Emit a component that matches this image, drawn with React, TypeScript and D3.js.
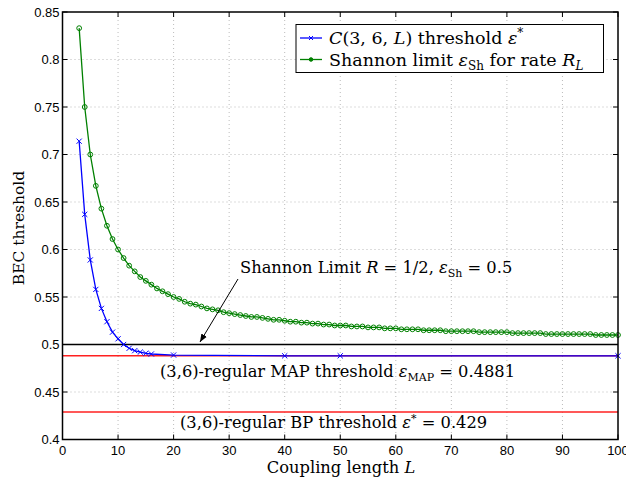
import * as d3 from "d3";

// blue: C(3,6,L) BP threshold
const coupledL = [3, 4, 5, 6, 7, 8, 9, 10, 11, 12, 13, 14, 15, 16, 20, 40, 50, 100];
const coupledEps = [
  0.714, 0.637, 0.589, 0.558, 0.538, 0.524, 0.513, 0.506, 0.5, 0.496, 0.4935, 0.492, 0.4907,
  0.49, 0.4889, 0.4881, 0.4881, 0.4881,
];

// green: Shannon limit for rate R_L
const shannonL = [
  3, 4, 5, 6, 7, 8, 9, 10, 11, 12, 13, 14, 15, 16, 17, 18, 19, 20, 21, 22, 23, 24, 25, 26, 27,
  28, 29, 30, 31, 32, 33, 34, 35, 36, 37, 38, 39, 40, 41, 42, 43, 44, 45, 46, 47, 48, 49, 50, 51,
  52, 53, 54, 55, 56, 57, 58, 59, 60, 61, 62, 63, 64, 65, 66, 67, 68, 69, 70, 71, 72, 73, 74, 75,
  76, 77, 78, 79, 80, 81, 82, 83, 84, 85, 86, 87, 88, 89, 90, 91, 92, 93, 94, 95, 96, 97, 98, 99,
  100,
];
const shannonEps = [
  0.833, 0.75, 0.7, 0.667, 0.643, 0.625, 0.611, 0.6, 0.591, 0.583, 0.577, 0.571, 0.567, 0.563,
  0.559, 0.556, 0.553, 0.55, 0.548, 0.545, 0.543, 0.542, 0.54, 0.538, 0.537, 0.536, 0.534, 0.533,
  0.532, 0.531, 0.53, 0.529, 0.529, 0.528, 0.527, 0.526, 0.526, 0.525, 0.524, 0.524, 0.523, 0.523,
  0.522, 0.522, 0.521, 0.521, 0.52, 0.52, 0.52, 0.519, 0.519, 0.519, 0.518, 0.518, 0.518, 0.517,
  0.517, 0.517, 0.516, 0.516, 0.516, 0.516, 0.515, 0.515, 0.515, 0.515, 0.514, 0.514, 0.514,
  0.514, 0.514, 0.514, 0.513, 0.513, 0.513, 0.513, 0.513, 0.513, 0.512, 0.512, 0.512, 0.512,
  0.512, 0.512, 0.511, 0.511, 0.511, 0.511, 0.511, 0.511, 0.511, 0.511, 0.511, 0.51, 0.51, 0.51,
  0.51, 0.51,
];

const xTicks = [0, 10, 20, 30, 40, 50, 60, 70, 80, 90, 100];
const yTicks = [0.4, 0.45, 0.5, 0.55, 0.6, 0.65, 0.7, 0.75, 0.8, 0.85];

const shannonLimit = 0.5;
const mapThreshold = 0.4881;
const bpThreshold = 0.429;

const W = 626;
const H = 480;
const left = 62.5;
const right = 618;
const top = 12;
const bottom = 439.5;

const serif = "'DejaVu Serif', 'Liberation Serif', serif";
const sans = "'Liberation Sans', Arial, sans-serif";
const blue = "#0000ff";
const green = "#008000";
const red = "#ff2020";
const fs = 16.3;
const sub = 11;
const legFs = 17.5;
const legSub = 12;

function XMark({ x, y, s = 2.6 }: { x: number; y: number; s?: number }) {
  return (
    <path
      d={`M${x - s},${y - s}L${x + s},${y + s}M${x - s},${y + s}L${x + s},${y - s}`}
      stroke={blue}
      strokeWidth={1}
      fill="none"
    />
  );
}

export default function App() {
  const x = d3.scaleLinear().domain([0, 100]).range([left, right]);
  const y = d3.scaleLinear().domain([0.4, 0.85]).range([bottom, top]);

  const coupledLine = d3
    .line<number>()
    .x((_, i) => x(coupledL[i]))
    .y((d) => y(d))(coupledEps) as string;
  const shannonLine = d3
    .line<number>()
    .x((_, i) => x(shannonL[i]))
    .y((d) => y(d))(shannonEps) as string;

  const tickLen = 5;
  const legX = 296;
  const legY = 24.5;

  return (
    <svg
      width={W}
      height={H}
      style={{ position: "absolute", left: 0, top: 0, background: "#fff" }}
    >
      <rect x={0} y={0} width={W} height={H} fill="#fff" />

      {/* grid */}
      {xTicks.slice(1, -1).map((t) => (
        <line key={"gx" + t} x1={x(t)} x2={x(t)} y1={top} y2={bottom} stroke="#aaa" strokeWidth={0.8} strokeDasharray="1,3" />
      ))}
      {yTicks.slice(1, -1).map((t) => (
        <line key={"gy" + t} x1={left} x2={right} y1={y(t)} y2={y(t)} stroke="#aaa" strokeWidth={0.8} strokeDasharray="1,3" />
      ))}

      {/* reference lines */}
      <line x1={left} x2={right} y1={y(shannonLimit)} y2={y(shannonLimit)} stroke="#000" strokeWidth={1.5} />
      <line x1={left} x2={right} y1={y(mapThreshold)} y2={y(mapThreshold)} stroke={red} strokeWidth={1.5} />
      <line x1={left} x2={right} y1={y(bpThreshold)} y2={y(bpThreshold)} stroke={red} strokeWidth={1.5} />

      {/* series */}
      <path d={shannonLine} fill="none" stroke={green} strokeWidth={1.3} />
      {shannonEps.map((v, i) => (
        <circle key={"g" + i} cx={x(shannonL[i])} cy={y(v)} r={2.4} fill="none" stroke={green} strokeWidth={1} />
      ))}
      <path d={coupledLine} fill="none" stroke={blue} strokeWidth={1.3} />
      {coupledEps.map((v, i) => (
        <XMark key={"b" + i} x={x(coupledL[i])} y={y(v)} />
      ))}

      {/* annotations */}
      <text x={240} y={273} fontFamily={serif} fontSize={fs} fill="#000">
        Shannon Limit <tspan fontStyle="italic">R</tspan> = 1/2,{" "}
        <tspan fontStyle="italic">ε</tspan>
        <tspan fontSize={sub} dy={4}>Sh</tspan>
        <tspan dy={-4}> = 0.5</tspan>
      </text>
      <defs>
        <marker id="arrow" viewBox="0 0 10 10" refX={10} refY={5} markerWidth={8} markerHeight={8} orient="auto">
          <path d="M0,1L10,5L0,9z" fill="#000" />
        </marker>
      </defs>
      <line x1={238} y1={279} x2={200} y2={342} stroke="#000" strokeWidth={1} markerEnd="url(#arrow)" />

      <text x={160} y={377} fontFamily={serif} fontSize={fs} fill="#000">
        (3,6)-regular MAP threshold <tspan fontStyle="italic">ε</tspan>
        <tspan fontSize={sub} dy={4}>MAP</tspan>
        <tspan dy={-4}> = 0.4881</tspan>
      </text>
      <text x={180} y={428} fontFamily={serif} fontSize={fs} fill="#000">
        (3,6)-regular BP threshold <tspan fontStyle="italic">ε</tspan>
        <tspan fontSize={sub} dy={-6}>*</tspan>
        <tspan dy={6}> = 0.429</tspan>
      </text>

      {/* frame & ticks */}
      <rect x={left} y={top} width={right - left} height={bottom - top} fill="none" stroke="#000" strokeWidth={1.5} />
      {xTicks.map((t) => (
        <g key={"tx" + t}>
          <line x1={x(t)} x2={x(t)} y1={bottom} y2={bottom - tickLen} stroke="#000" />
          <line x1={x(t)} x2={x(t)} y1={top} y2={top + tickLen} stroke="#000" />
          <text x={x(t)} y={bottom + 15} textAnchor="middle" fontFamily={sans} fontSize={13} fill="#000">
            {t}
          </text>
        </g>
      ))}
      {yTicks.map((t) => (
        <g key={"ty" + t}>
          <line x1={left} x2={left + tickLen} y1={y(t)} y2={y(t)} stroke="#000" />
          <line x1={right} x2={right - tickLen} y1={y(t)} y2={y(t)} stroke="#000" />
          <text x={left - 3} y={y(t)} dy="0.35em" textAnchor="end" fontFamily={sans} fontSize={13} fill="#000">
            {t}
          </text>
        </g>
      ))}

      {/* axis labels */}
      <text x={341} y={473} textAnchor="middle" fontFamily={serif} fontSize={fs} fill="#000">
        Coupling length <tspan fontStyle="italic">L</tspan>
      </text>
      <text transform={`translate(24,228) rotate(-90)`} textAnchor="middle" fontFamily={serif} fontSize={15.5} fill="#000">
        BEC threshold
      </text>

      {/* legend */}
      <rect x={legX} y={legY} width={307.5} height={48} fill="#fff" stroke="#000" strokeWidth={1} />
      <line x1={legX + 4} x2={legX + 26} y1={legY + 13.5} y2={legY + 13.5} stroke={blue} strokeWidth={1.3} />
      <XMark x={legX + 15} y={legY + 13.5} s={2} />
      <text x={legX + 33} y={legY + 19.5} fontFamily={serif} fontSize={legFs} fill="#000">
        <tspan fontStyle="italic">C</tspan>
        {"(3, 6, "}
        <tspan fontStyle="italic">L</tspan>
        {") threshold "}
        <tspan fontStyle="italic">ε</tspan>
        <tspan fontSize={legSub} dy={-7}>*</tspan>
      </text>
      <line x1={legX + 4} x2={legX + 26} y1={legY + 35} y2={legY + 35} stroke={green} strokeWidth={1.3} />
      <circle cx={legX + 15} cy={legY + 35} r={1.8} fill={green} stroke={green} />
      <text x={legX + 33} y={legY + 41} fontFamily={serif} fontSize={legFs} fill="#000">
        Shannon limit <tspan fontStyle="italic">ε</tspan>
        <tspan fontSize={legSub} dy={4}>Sh</tspan>
        <tspan dy={-4}> for rate </tspan>
        <tspan fontStyle="italic">R</tspan>
        <tspan fontSize={legSub} fontStyle="italic" dy={4}>L</tspan>
      </text>
    </svg>
  );
}
